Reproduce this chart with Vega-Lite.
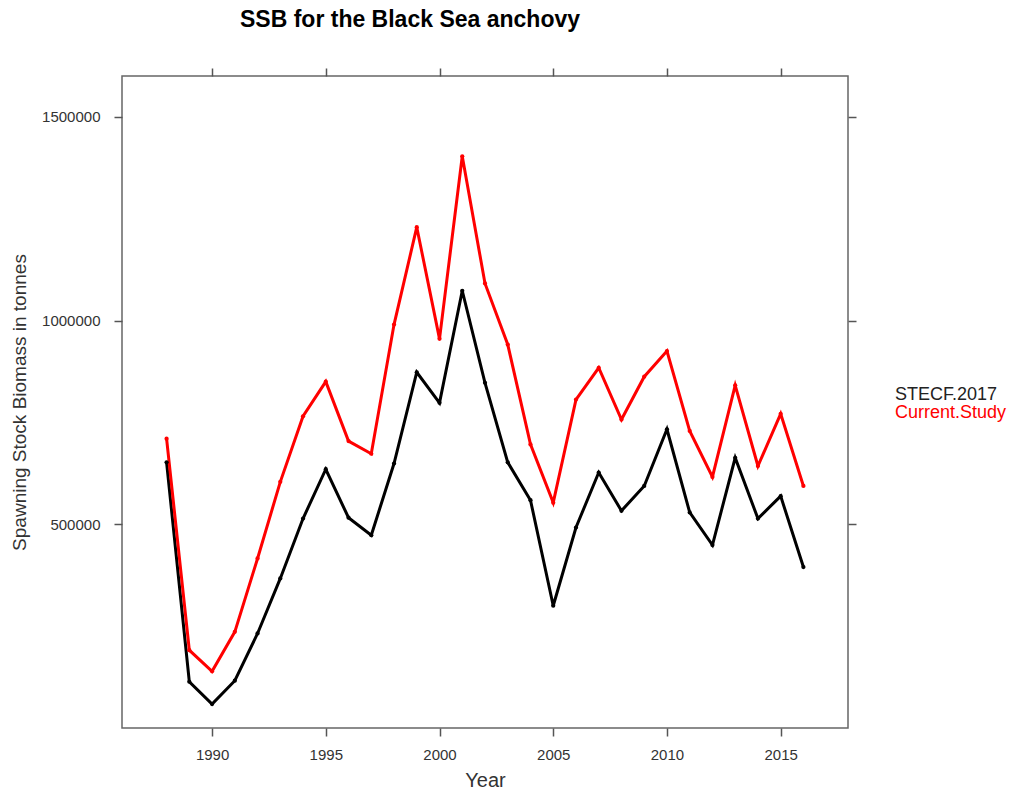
{
"$schema": "https://vega.github.io/schema/vega-lite/v6.json",
"width": 726,
"height": 652,
"autosize": {"type": "none"},
"padding": {"left": 122, "top": 76, "right": 163, "bottom": 70},
"background": "white",
"title": {"text": "SSB for the Black Sea anchovy", "fontSize": 23, "font": "Liberation Sans", "fontWeight": "bold", "color": "#000000", "anchor": "middle", "dx": -75, "offset": 35},
"data": {"values": [
{"year":1988,"series":"STECF.2017","ssb":652000},{"year":1989,"series":"STECF.2017","ssb":113500},{"year":1990,"series":"STECF.2017","ssb":58800},{"year":1991,"series":"STECF.2017","ssb":116000},{"year":1992,"series":"STECF.2017","ssb":232000},{"year":1993,"series":"STECF.2017","ssb":367000},{"year":1994,"series":"STECF.2017","ssb":514000},{"year":1995,"series":"STECF.2017","ssb":635000},{"year":1996,"series":"STECF.2017","ssb":516000},{"year":1997,"series":"STECF.2017","ssb":473000},{"year":1998,"series":"STECF.2017","ssb":649000},{"year":1999,"series":"STECF.2017","ssb":873000},{"year":2000,"series":"STECF.2017","ssb":798000},{"year":2001,"series":"STECF.2017","ssb":1073000},{"year":2002,"series":"STECF.2017","ssb":847000},{"year":2003,"series":"STECF.2017","ssb":652000},{"year":2004,"series":"STECF.2017","ssb":559000},{"year":2005,"series":"STECF.2017","ssb":300000},{"year":2006,"series":"STECF.2017","ssb":492000},{"year":2007,"series":"STECF.2017","ssb":627000},{"year":2008,"series":"STECF.2017","ssb":533000},{"year":2009,"series":"STECF.2017","ssb":594000},{"year":2010,"series":"STECF.2017","ssb":733000},{"year":2011,"series":"STECF.2017","ssb":529000},{"year":2012,"series":"STECF.2017","ssb":449000},{"year":2013,"series":"STECF.2017","ssb":663000},{"year":2014,"series":"STECF.2017","ssb":514000},{"year":2015,"series":"STECF.2017","ssb":569000},{"year":2016,"series":"STECF.2017","ssb":395000},
{"year":1988,"series":"Current.Study","ssb":710000},{"year":1989,"series":"Current.Study","ssb":191000},{"year":1990,"series":"Current.Study","ssb":139000},{"year":1991,"series":"Current.Study","ssb":236000},{"year":1992,"series":"Current.Study","ssb":416000},{"year":1993,"series":"Current.Study","ssb":604000},{"year":1994,"series":"Current.Study","ssb":765000},{"year":1995,"series":"Current.Study","ssb":850000},{"year":1996,"series":"Current.Study","ssb":704000},{"year":1997,"series":"Current.Study","ssb":673000},{"year":1998,"series":"Current.Study","ssb":990000},{"year":1999,"series":"Current.Study","ssb":1229000},{"year":2000,"series":"Current.Study","ssb":955000},{"year":2001,"series":"Current.Study","ssb":1403000},{"year":2002,"series":"Current.Study","ssb":1091000},{"year":2003,"series":"Current.Study","ssb":941000},{"year":2004,"series":"Current.Study","ssb":696000},{"year":2005,"series":"Current.Study","ssb":553000},{"year":2006,"series":"Current.Study","ssb":806000},{"year":2007,"series":"Current.Study","ssb":884000},{"year":2008,"series":"Current.Study","ssb":757000},{"year":2009,"series":"Current.Study","ssb":862000},{"year":2010,"series":"Current.Study","ssb":925000},{"year":2011,"series":"Current.Study","ssb":729000},{"year":2012,"series":"Current.Study","ssb":616000},{"year":2013,"series":"Current.Study","ssb":841000},{"year":2014,"series":"Current.Study","ssb":643000},{"year":2015,"series":"Current.Study","ssb":771000},{"year":2016,"series":"Current.Study","ssb":594000}
]},
"config": {
"view": {"stroke": "#666666", "strokeWidth": 1.5},
"axis": {"grid": false, "domain": false, "tickColor": "#555555", "tickWidth": 1.5, "tickSize": 8, "labelFont": "Liberation Sans", "labelFontSize": 15, "labelColor": "#333333", "titleFont": "Liberation Sans", "titleFontWeight": "normal", "titleColor": "#333333"}
},
"resolve": {"axis": {"x": "independent", "y": "independent"}},
"layer": [
{
"mark": {"type": "line", "strokeWidth": 3, "point": {"filled": true, "size": 18}},
"encoding": {
"x": {"field": "year", "type": "quantitative", "scale": {"domain": [1986.04, 2017.96], "nice": false, "zero": false}, "axis": {"orient": "bottom", "values": [1990, 1995, 2000, 2005, 2010, 2015], "format": "d", "title": "Year", "titleFontSize": 20, "labelPadding": 11, "titlePadding": 8}},
"y": {"field": "ssb", "type": "quantitative", "scale": {"domain": [0, 1600000], "nice": false}, "axis": {"orient": "left", "values": [500000, 1000000, 1500000], "format": "d", "title": "Spawning Stock Biomass in tonnes", "titleFontSize": 19, "labelPadding": 14, "titlePadding": 12}},
"color": {"field": "series", "type": "nominal", "sort": ["STECF.2017", "Current.Study"], "scale": {"domain": ["STECF.2017", "Current.Study"], "range": ["#000000", "#ff0000"]},
"legend": {"orient": "none", "legendX": 755, "legendY": 310, "title": null, "symbolSize": 0, "symbolStrokeWidth": 0, "symbolOpacity": 0, "labelFontSize": 18, "labelFont": "Liberation Sans", "labelOffset": 0, "padding": 0, "rowPadding": 0, "labelLimit": 300,
"encode": {"labels": {"update": {"fill": {"signal": "datum.value === 'Current.Study' ? '#ff0000' : '#222222'"}}}}}}
}
},
{
"mark": {"type": "line", "strokeOpacity": 0},
"encoding": {
"x": {"field": "year", "type": "quantitative", "scale": {"domain": [1986.04, 2017.96], "nice": false, "zero": false}, "axis": {"orient": "top", "values": [1990, 1995, 2000, 2005, 2010, 2015], "labels": false, "title": null}},
"y": {"field": "ssb", "type": "quantitative", "scale": {"domain": [0, 1600000], "nice": false}, "axis": {"orient": "right", "values": [500000, 1000000, 1500000], "labels": false, "title": null}},
"detail": {"field": "series"}
}
}
]
}
